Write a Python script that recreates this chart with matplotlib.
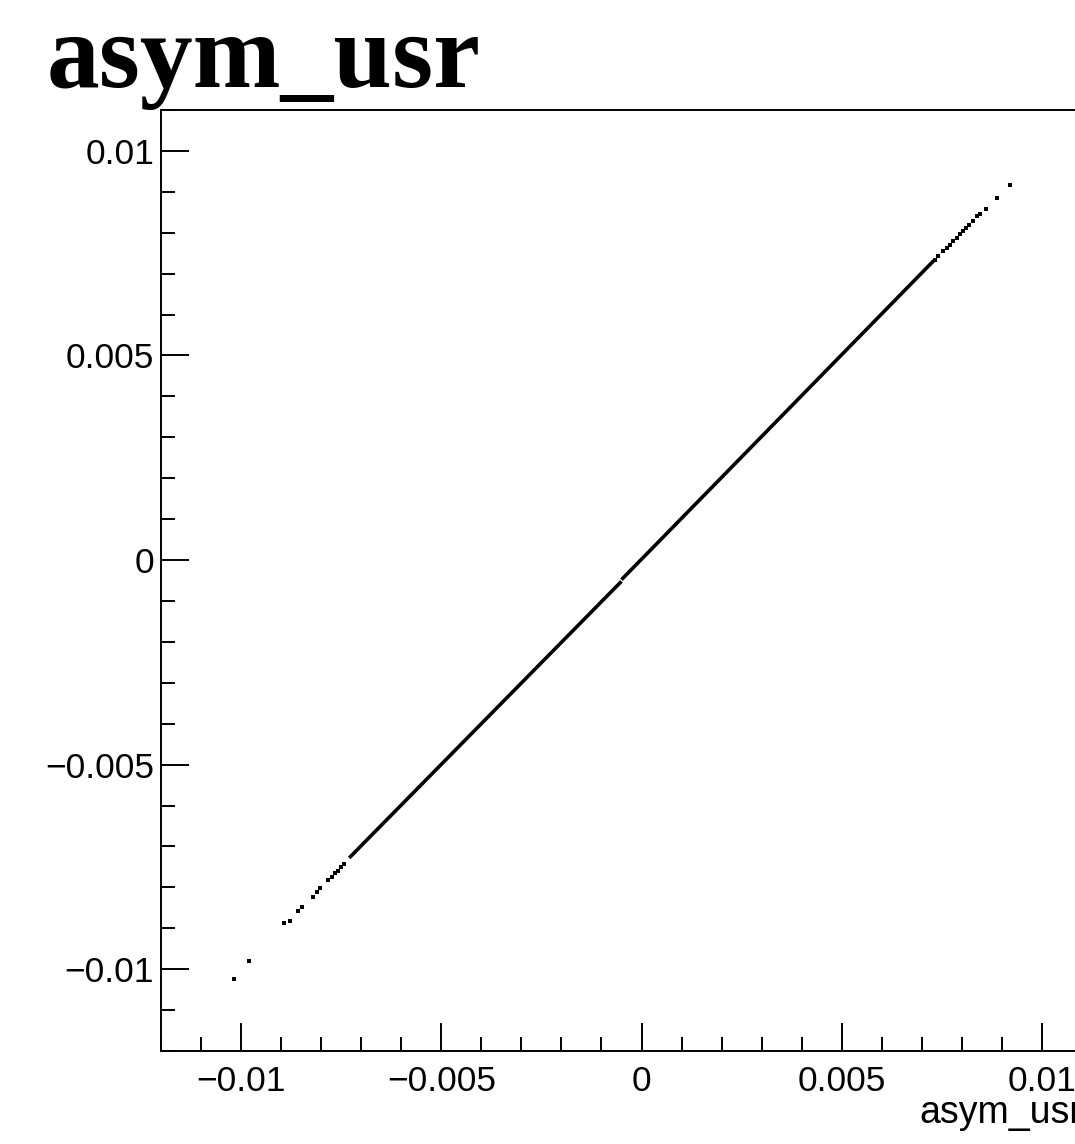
import matplotlib
matplotlib.use("Agg")
import matplotlib.pyplot as plt
from matplotlib.ticker import MultipleLocator, FixedLocator, FixedFormatter

# ---- data ----
title = "asym_usr"
x_label = "asym_usr"

# dense core of the scatter, drawn as continuous segments (start/end)
core_x0 = [-0.00730, -0.00050]
core_y0 = [-0.00728, -0.00048]
core_x1 = [-0.00050, 0.00730]
core_y1 = [-0.00052, 0.00732]

# sparse points at the low end
low_x = [-0.01018, -0.00979, -0.00892, -0.00878, -0.00859, -0.00849,
         -0.00820, -0.00811, -0.00803, -0.00782, -0.00774, -0.00765,
         -0.00759, -0.00750, -0.00742]
low_y = [-0.01025, -0.00979, -0.00888, -0.00882, -0.00857, -0.00849,
         -0.00824, -0.00811, -0.00802, -0.00783, -0.00775, -0.00766,
         -0.00759, -0.00751, -0.00743]

# sparse points at the high end
high_x = [0.00920, 0.00887, 0.00860, 0.00845, 0.00837, 0.00827, 0.00819,
          0.00810, 0.00804, 0.00795, 0.00787, 0.00779, 0.00770, 0.00762,
          0.00754, 0.00741, 0.00733]
high_y = [0.00917, 0.00884, 0.00858, 0.00847, 0.00842, 0.00828, 0.00820,
          0.00811, 0.00805, 0.00796, 0.00788, 0.00780, 0.00771, 0.00763,
          0.00755, 0.00742, 0.00734]

x_range = [-0.012, 0.011]
y_range = [-0.012, 0.011]
x_tick_values = [-0.01, -0.005, 0.0, 0.005, 0.01]
x_tick_labels = ["\u22120.01", "\u22120.005", "0", "0.005", "0.01"]
y_tick_values = [-0.01, -0.005, 0.0, 0.005, 0.01]
y_tick_labels = ["\u22120.01", "\u22120.005", "0", "0.005", "0.01"]

# ---- figure ----
W, H = 1075, 1144
fig = plt.figure(figsize=(W / 100, H / 100), dpi=100)
fig.patch.set_facecolor("white")

left, right, top, bottom = 161, 1082, 110, 1051
ax = fig.add_axes([left / W, 1 - bottom / H, (right - left) / W, (bottom - top) / H])
ax.set_xlim(*x_range)
ax.set_ylim(*y_range)

for xs, ys, xe, ye in zip(core_x0, core_y0, core_x1, core_y1):
    ax.plot([xs, xe], [ys, ye], color="black", lw=2.6, solid_capstyle="butt")
ax.plot(low_x, low_y, linestyle="none", marker="s", markersize=2.4,
        markeredgewidth=0, color="black")
ax.plot(high_x, high_y, linestyle="none", marker="s", markersize=2.4,
        markeredgewidth=0, color="black")

ax.xaxis.set_major_locator(FixedLocator(x_tick_values))
ax.xaxis.set_major_formatter(FixedFormatter(x_tick_labels))
ax.yaxis.set_major_locator(FixedLocator(y_tick_values))
ax.yaxis.set_major_formatter(FixedFormatter(y_tick_labels))
ax.xaxis.set_minor_locator(MultipleLocator(0.001))
ax.yaxis.set_minor_locator(MultipleLocator(0.001))

ax.tick_params(axis="both", which="both", direction="in", top=False, right=False,
               width=1.4, color="black")
ax.tick_params(axis="both", which="major", length=20)
ax.tick_params(axis="both", which="minor", length=10)
ax.tick_params(axis="x", which="major", pad=10)
ax.tick_params(axis="y", which="major", pad=5)
for lab in ax.get_xticklabels() + ax.get_yticklabels():
    lab.set_fontfamily("Liberation Sans")
    lab.set_fontsize(25.5)
    lab.set_color("black")

for sp in ax.spines.values():
    sp.set_linewidth(1.4)
    sp.set_color("black")

ax.text(1.0, (bottom - 1123) / (bottom - top), x_label, transform=ax.transAxes,
        ha="right", va="baseline", fontsize=27, family="Liberation Sans",
        color="black", clip_on=False)

fig.text(47 / W, 1 - 87 / H, title, ha="left", va="baseline",
         fontsize=76, fontweight="bold", family="Liberation Serif", color="black")

fig.savefig("out.png", dpi=100, facecolor="white")
